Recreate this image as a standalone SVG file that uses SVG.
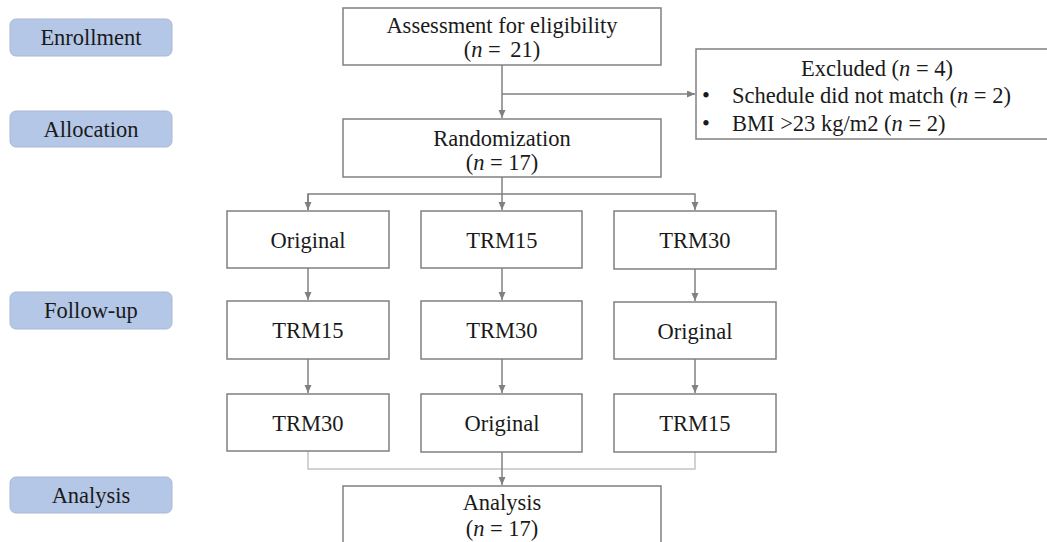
<svg xmlns="http://www.w3.org/2000/svg" width="1047" height="542" viewBox="0 0 1047 542">
<style>
  .stage rect { fill: #b4c7e7; stroke: #a9b8d4; stroke-width: 1; }
  .box rect { fill: #ffffff; stroke: #808080; stroke-width: 1.5; }
  text { font-family: "Liberation Serif", "Times New Roman", serif; font-size: 22.5px; fill: #1a1a1a; }
  .c { text-anchor: middle; }
  .conn { fill: none; stroke: #808080; stroke-width: 1.5; }
  .light { stroke: #c4c4c4; }
  i, .it { font-style: italic; }
</style>
<defs>
  <marker id="arr" markerUnits="userSpaceOnUse" markerWidth="9" markerHeight="8" refX="8" refY="3.5" orient="auto">
    <path d="M0,0 L8,3.5 L0,7 z" fill="#808080"/>
  </marker>
</defs>
<rect width="1047" height="542" fill="#ffffff"/>

<g id="stage-enrollment" class="stage"><rect x="10" y="19" width="162" height="37" rx="6"/><text class="c" x="91" y="45">Enrollment</text></g>
<g id="stage-allocation" class="stage"><rect x="10" y="111" width="162" height="36" rx="6"/><text class="c" x="91" y="137">Allocation</text></g>
<g id="stage-followup" class="stage"><rect x="10" y="292" width="162" height="37" rx="6"/><text class="c" x="91" y="318">Follow-up</text></g>
<g id="stage-analysis" class="stage"><rect x="10" y="477" width="162" height="36" rx="6"/><text class="c" x="91" y="503">Analysis</text></g>

<g id="connectors">
  <path class="conn" d="M502,65 V118" marker-end="url(#arr)"/>
  <path class="conn" d="M502,94 H695" marker-end="url(#arr)"/>
  <path class="conn" d="M502,177 V210"  marker-end="url(#arr)"/>
  <path class="conn" d="M308,210 V194 H695 V210" marker-end="url(#arr)"/>
  <path class="conn" d="M308,194 V210" marker-end="url(#arr)"/>
  <path class="conn" d="M308,268 V300" marker-end="url(#arr)"/>
  <path class="conn" d="M502,268 V300" marker-end="url(#arr)"/>
  <path class="conn" d="M695,269 V301" marker-end="url(#arr)"/>
  <path class="conn" d="M308,359 V393" marker-end="url(#arr)"/>
  <path class="conn" d="M502,359 V393" marker-end="url(#arr)"/>
  <path class="conn" d="M695,359 V393" marker-end="url(#arr)"/>
  <path class="conn light" d="M308,451 V469 H695 V452"/>
  <path class="conn" d="M502,452 V485" marker-end="url(#arr)"/>
</g>

<g id="assessment" class="box"><rect x="343" y="8" width="318" height="57"/>
  <text class="c" x="502" y="33">Assessment for eligibility</text>
  <text class="c" x="502" y="57">(<tspan class="it">n</tspan> = <tspan dx="4">21)</tspan></text></g>

<g id="excluded" class="box"><rect x="696" y="49" width="365" height="90"/>
  <text class="c" x="877" y="76">Excluded (<tspan class="it">n</tspan> = 4)</text>
  <text x="702" y="103">•</text><text x="732" y="103">Schedule did not match (<tspan class="it">n</tspan> = 2)</text>
  <text x="702" y="131">•</text><text x="732" y="131">BMI &gt;23 kg/m2 (<tspan class="it">n</tspan> = 2)</text></g>

<g id="randomization" class="box"><rect x="343" y="119" width="318" height="58"/>
  <text class="c" x="502" y="146">Randomization</text>
  <text class="c" x="502" y="170">(<tspan class="it">n</tspan> = 17)</text></g>

<g id="r1c1" class="box"><rect x="227" y="211" width="162" height="57"/><text class="c" x="308" y="248">Original</text></g>
<g id="r1c2" class="box"><rect x="421" y="211" width="161" height="57"/><text class="c" x="502" y="248">TRM15</text></g>
<g id="r1c3" class="box"><rect x="614" y="211" width="162" height="58"/><text class="c" x="695" y="248">TRM30</text></g>

<g id="r2c1" class="box"><rect x="227" y="301" width="162" height="58"/><text class="c" x="308" y="338">TRM15</text></g>
<g id="r2c2" class="box"><rect x="421" y="301" width="161" height="58"/><text class="c" x="502" y="338">TRM30</text></g>
<g id="r2c3" class="box"><rect x="614" y="302" width="162" height="57"/><text class="c" x="695" y="339">Original</text></g>

<g id="r3c1" class="box"><rect x="227" y="394" width="162" height="57"/><text class="c" x="308" y="431">TRM30</text></g>
<g id="r3c2" class="box"><rect x="421" y="394" width="161" height="58"/><text class="c" x="502" y="431">Original</text></g>
<g id="r3c3" class="box"><rect x="614" y="394" width="162" height="58"/><text class="c" x="695" y="431">TRM15</text></g>

<g id="analysis" class="box"><rect x="343" y="486" width="318" height="70"/>
  <text class="c" x="502" y="510">Analysis</text>
  <text class="c" x="502" y="536">(<tspan class="it">n</tspan> = 17)</text></g>
</svg>
